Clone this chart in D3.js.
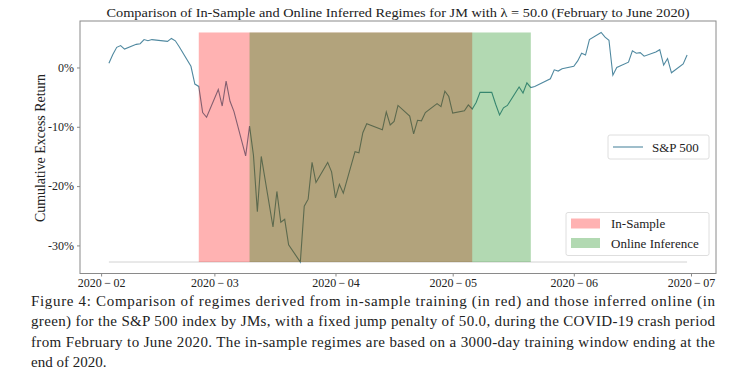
<!DOCTYPE html>
<html>
<head>
<meta charset="utf-8">
<script src="https://cdn.jsdelivr.net/npm/d3@7"></script>
<style>
body{margin:0;background:#fff;}
text{font-family:"Liberation Serif","DejaVu Serif",serif;fill:#222;}
</style>
</head>
<body>
<div id="chart"></div>
<script>
/*S&P 500 cumulative excess return with regime shading*/

var dates = [
  "2020-02-03","2020-02-04","2020-02-05","2020-02-06","2020-02-07",
  "2020-02-10","2020-02-11","2020-02-12","2020-02-13","2020-02-14",
  "2020-02-18","2020-02-19","2020-02-20","2020-02-21",
  "2020-02-24","2020-02-25","2020-02-26","2020-02-27","2020-02-28",
  "2020-03-02","2020-03-03","2020-03-04","2020-03-05","2020-03-06",
  "2020-03-09","2020-03-10","2020-03-11","2020-03-12","2020-03-13",
  "2020-03-16","2020-03-17","2020-03-18","2020-03-19","2020-03-20",
  "2020-03-23","2020-03-24","2020-03-25","2020-03-26","2020-03-27",
  "2020-03-30","2020-03-31","2020-04-01","2020-04-02","2020-04-03",
  "2020-04-06","2020-04-07","2020-04-08","2020-04-09",
  "2020-04-13","2020-04-14","2020-04-15","2020-04-16","2020-04-17",
  "2020-04-20","2020-04-21","2020-04-22","2020-04-23","2020-04-24",
  "2020-04-27","2020-04-28","2020-04-29","2020-04-30","2020-05-01",
  "2020-05-04","2020-05-05","2020-05-06","2020-05-07","2020-05-08",
  "2020-05-11","2020-05-12","2020-05-13","2020-05-14","2020-05-15",
  "2020-05-18","2020-05-19","2020-05-20","2020-05-21","2020-05-22",
  "2020-05-26","2020-05-27","2020-05-28","2020-05-29",
  "2020-06-01","2020-06-02","2020-06-03","2020-06-04","2020-06-05",
  "2020-06-08","2020-06-09","2020-06-10","2020-06-11","2020-06-12",
  "2020-06-15","2020-06-16","2020-06-17","2020-06-18","2020-06-19",
  "2020-06-22","2020-06-23","2020-06-24","2020-06-25","2020-06-26",
  "2020-06-29","2020-06-30"
];

// cumulative excess return, %
var spx = [
  0.7, 2.2, 3.4, 3.7, 3.1,
  3.9, 4.0, 4.7, 4.5, 4.7,
  4.4, 4.9, 4.5, 3.5,
  0.2, -2.8, -3.2, -7.6, -8.4,
  -3.7, -6.5, -2.3, -5.7, -7.4,
  -14.9, -9.9, -14.8, -24.3, -15.0,
  -26.9, -20.9, -26.1, -25.6, -29.9,
  -32.8, -23.4, -22.2, -16.0, -19.4,
  -16.0, -17.6, -22.0, -19.7, -21.2,
  -14.2, -14.4, -11.0, -9.5,
  -10.5, -7.5, -9.7, -9.1, -6.4,
  -8.2, -11.2, -8.9, -9.0, -7.6,
  -6.1, -6.6, -4.0, -4.9, -7.7,
  -7.3, -6.3, -7.0, -5.9, -4.2,
  -4.2, -6.2, -8.0, -6.8, -6.4,
  -3.3, -4.3, -2.6, -3.4, -3.2,
  -1.9, -0.4, -0.6, -0.2,
  0.2, 1.1, 2.4, 2.1, 4.7,
  5.9, 5.1, 4.6, -1.3, 0.0,
  0.9, 2.8, 2.4, 2.5, 1.9,
  2.6, 3.0, 0.4, 1.5, -0.9,
  0.6, 2.1
];

var inSample = ["2020-02-26","2020-05-06"];
var online = ["2020-03-10","2020-05-21"];

var xTicks = ["2020-02-01","2020-03-01","2020-04-01","2020-05-01","2020-06-01","2020-07-01"];
var yTicks = [0,-10,-20,-30];

var title = "Comparison of In-Sample and Online Inferred Regimes for JM with \u03bb = 50.0 (February to June 2020)";
var caption = [
  "Figure 4:  Comparison of regimes derived from in-sample training (in red) and those inferred online (in",
  "green) for the S&P 500 index by JMs, with a fixed jump penalty of 50.0, during the COVID-19 crash period",
  "from February to June 2020. The in-sample regimes are based on a 3000-day training window ending at the",
  "end of 2020."
];

var W = 745, H = 386;
var margin = {top:21, right:29, bottom:112.5, left:80},
w = W - margin.left - margin.right,
h = H - margin.top - margin.bottom;

var parse = d3.timeParse("%Y-%m-%d");
var data = dates.map(function(d,i){return {date:parse(d), v:spx[i]};});

var root = d3.select("#chart").append("svg")
  .attr("width",W).attr("height",H);

var svg = root.append("g")
  .attr("transform",`translate(${margin.left},${margin.top})`);

// matplotlib style 5% padding
var tExt = d3.extent(data,function(d){return d.date;});
var tPad = (tExt[1]-tExt[0])*0.05;
var xScale = d3.scaleTime()
  .domain([new Date(+tExt[0]-tPad), new Date(+tExt[1]+tPad)])
  .range([0,w]);

var vMin = d3.min(spx), vMax = d3.max(spx);
var vPad = (vMax-vMin)*0.05;
var yScale = d3.scaleLinear()
  .domain([vMin-vPad, vMax+vPad])
  .range([h,0]);

// faint baseline at the minimum
svg.append("line")
  .attr("x1",xScale(tExt[0])).attr("x2",xScale(tExt[1]))
  .attr("y1",yScale(vMin)).attr("y2",yScale(vMin))
  .attr("stroke","#d2d2d2").attr("stroke-width",1);

svg.append("path")
  .datum(data)
  .attr("fill","none")
  .attr("stroke","#5089a0")
  .attr("stroke-width",1.1)
  .attr("d",d3.line()
    .x(function(d){return xScale(d.date);})
    .y(function(d){return yScale(d.v);}));

// regimes drawn on top of the line
[[inSample,"rgb(255,0,0)"],[online,"rgb(0,128,0)"]].forEach(function(r){
  var x0 = xScale(parse(r[0][0])), x1 = xScale(parse(r[0][1]));
  svg.append("rect")
    .attr("x",x0).attr("width",x1-x0)
    .attr("y",yScale(vMax)).attr("height",yScale(vMin)-yScale(vMax))
    .attr("fill",r[1]).attr("fill-opacity",0.3);
});

// axes
var xAxis = svg.append("g")
  .attr("transform","translate(0,"+h+")")
  .call(d3.axisBottom(xScale)
    .tickValues(xTicks.map(parse))
    .tickSize(3)
    .tickFormat(function(d){return d3.timeFormat("%Y")(d)+"\u2009\u2212\u2009"+d3.timeFormat("%m")(d);}));
xAxis.selectAll("text").style("font-size","12px").attr("y",5);

var yAxis = svg.append("g")
  .call(d3.axisLeft(yScale)
    .tickValues(yTicks)
    .tickSize(3)
    .tickFormat(function(d){return d+"%";}));
yAxis.selectAll("text").style("font-size","12px");

svg.selectAll(".domain").remove();
svg.selectAll(".tick line").attr("stroke","#888");

svg.append("rect")
  .attr("width",w).attr("height",h)
  .attr("fill","none").attr("stroke","#8a8a8a").attr("stroke-width",1);

svg.append("text")
  .attr("transform","translate(-40,"+(148-margin.top)+")rotate(-90)")
  .attr("text-anchor","middle")
  .attr("dy","0.35em")
  .attr("textLength",148).attr("lengthAdjust","spacingAndGlyphs")
  .style("font-size","14px")
  .text("Cumulative Excess Return");

// title
root.append("text")
  .attr("x",margin.left+w/2).attr("y",17)
  .attr("text-anchor","middle")
  .attr("textLength",583).attr("lengthAdjust","spacingAndGlyphs")
  .style("font-size","13.5px")
  .text(title);

// legend for the line
var lg1 = svg.append("g").attr("transform","translate("+(608-margin.left)+","+(135-margin.top)+")");
lg1.append("rect").attr("width",101).attr("height",24).attr("rx",2)
  .attr("fill","#fff").attr("fill-opacity",0.8).attr("stroke","#dedede");
lg1.append("line").attr("x1",5).attr("x2",35).attr("y1",12).attr("y2",12)
  .attr("stroke","#5089a0").attr("stroke-width",1.1);
lg1.append("text").attr("x",44).attr("y",12).attr("dy","0.35em")
  .style("font-size","13px").text("S&P 500");

// legend for regimes
var lg2 = svg.append("g").attr("transform","translate("+(566-margin.left)+","+(212.5-margin.top)+")");
lg2.append("rect").attr("width",143).attr("height",43).attr("rx",2)
  .attr("fill","#fff").attr("fill-opacity",0.8).attr("stroke","#dedede");
[["In-Sample","rgb(255,0,0)"],["Online Inference","rgb(0,128,0)"]].forEach(function(it,i){
  lg2.append("rect").attr("x",5).attr("y",6+i*19.5).attr("width",29).attr("height",10)
    .attr("fill",it[1]).attr("fill-opacity",0.3);
  lg2.append("text").attr("x",45).attr("y",11+i*19.5).attr("dy","0.35em")
    .style("font-size","13px").text(it[0]);
});

// figure caption
caption.forEach(function(line,i){
  var t = root.append("text")
    .attr("x",31).attr("y",306+i*20.3)
    .style("font-size","15px")
    .text(line);
  if(i<caption.length-1){t.attr("textLength",684).attr("lengthAdjust","spacing");}
});
</script>
</body>
</html>
